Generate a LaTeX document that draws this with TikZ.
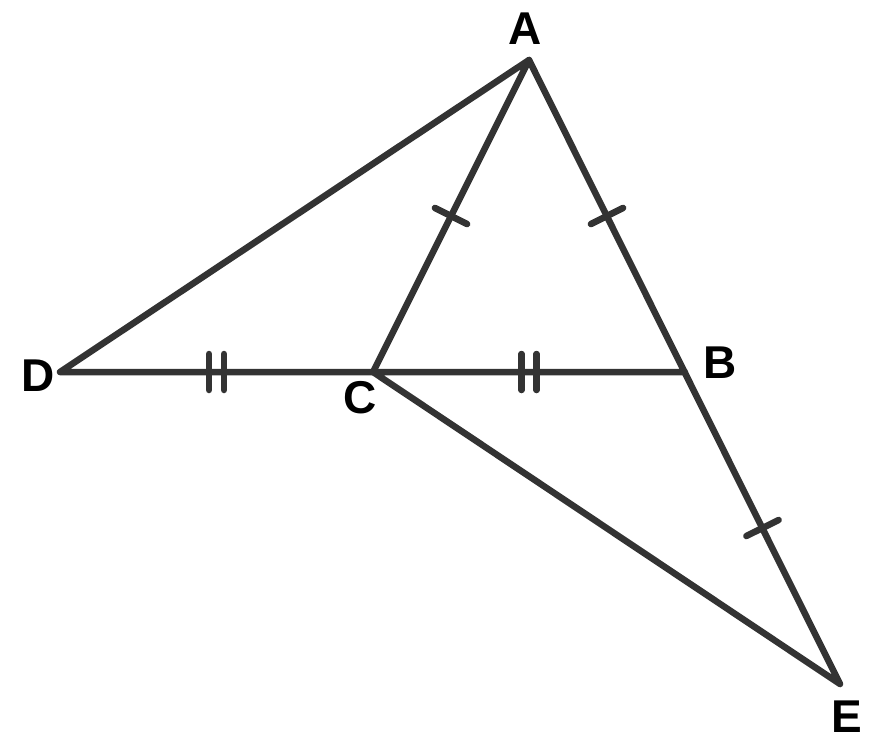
\documentclass[tikz,border=0pt]{standalone}
\usepackage{fontspec}
\setmainfont{Liberation Sans}
\usetikzlibrary{calc}
\definecolor{ln}{HTML}{333333}
\begin{document}
\begin{tikzpicture}[x=1pt,y=-1pt,
  seg/.style={draw=ln,line width=6.5pt,line cap=round,line join=round},
  tick/.style={draw=ln,line width=6.5pt,line cap=round},
  lbl/.style={inner sep=0pt,font=\fontsize{46}{46}\selectfont\bfseries,text=black}]
\useasboundingbox (0,0) rectangle (874,749);
\coordinate (A) at (529,60);
\coordinate (D) at (60,372);
\coordinate (C) at (373,372);
\coordinate (B) at (685,372);
\coordinate (E) at (840,684);
\draw[seg] (D) -- (A) -- (C) -- cycle;
\draw[seg] (A) -- (E) -- (C) -- (B);
% midpoints
\coordinate (mAC) at ($(A)!0.5!(C)$);
\coordinate (mAB) at ($(A)!0.5!(B)$);
\coordinate (mBE) at ($(B)!0.5!(E)$);
\coordinate (mDC) at ($(D)!0.5!(C)$);
\coordinate (mCB) at ($(C)!0.5!(B)$);
% single ticks
\draw[tick] ($(mAC)!18pt!90:(C)$) -- ($(mAC)!18pt!-90:(C)$);
\draw[tick] ($(mAB)!18pt!90:(B)$) -- ($(mAB)!18pt!-90:(B)$);
\draw[tick] ($(mBE)!18pt!90:(E)$) -- ($(mBE)!18pt!-90:(E)$);
% double ticks
\foreach \m in {mDC,mCB}{
  \draw[tick] ($(\m)+(-7.5,-18)$) -- ($(\m)+(-7.5,18)$);
  \draw[tick] ($(\m)+(7.5,-18)$) -- ($(\m)+(7.5,18)$);
}
% labels
\node[lbl] (lA) at (525.5,28.5) {A};
\node[lbl] (lD) at (38,376) {D};
\node[lbl] (lC) at (360,398) {C};
\node[lbl] (lB) at (720,363) {B};
\node[lbl] (lE) at (847,717) {E};
\end{tikzpicture}
\end{document}
